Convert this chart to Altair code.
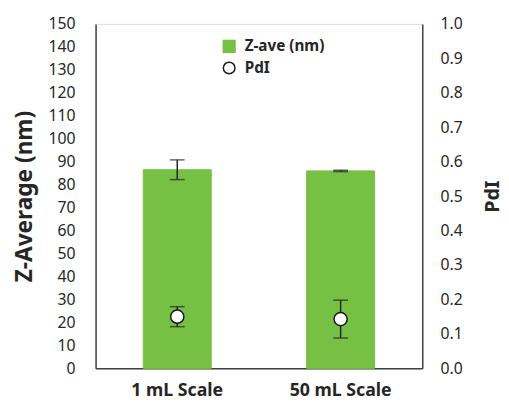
import altair as alt
import pandas as pd

categories = ["1 mL Scale", "50 mL Scale"]
z_ave = [86.5, 86.0]
z_err = [4.3, 0.3]
pdi = [0.150, 0.143]
pdi_err = [0.029, 0.055]
series_names = ["Z-ave (nm)", "PdI"]
series_fill = ["#76c043", "#ffffff"]
series_stroke = ["#76c043", "#1a1a1a"]
series_shape = ["square", "circle"]
z_ticks = list(range(0, 151, 10))
pdi_ticks = [i / 10 for i in range(11)]

df_z = pd.DataFrame({
    "cat": categories,
    "val": z_ave,
    "lo": [v - e for v, e in zip(z_ave, z_err)],
    "hi": [v + e for v, e in zip(z_ave, z_err)],
    "series": series_names[0],
})
df_p = pd.DataFrame({
    "cat": categories,
    "val": pdi,
    "lo": [v - e for v, e in zip(pdi, pdi_err)],
    "hi": [v + e for v, e in zip(pdi, pdi_err)],
    "series": series_names[1],
})

FONT = "Noto Sans"
TXT = "#262626"

xenc = alt.X(
    "cat:N", sort=categories,
    scale=alt.Scale(paddingInner=0.584, paddingOuter=0.292),
    axis=alt.Axis(title=None, labelAngle=0, labelFont=FONT, labelFontSize=18,
                  labelFontWeight="bold", labelColor=TXT, labelPadding=14,
                  ticks=False, domainColor="#404040", domainWidth=1.5),
)

fill_scale = alt.Scale(domain=series_names, range=series_fill)
stroke_scale = alt.Scale(domain=series_names, range=series_stroke)
shape_scale = alt.Scale(domain=series_names, range=series_shape)
legend = alt.Legend(title=None, orient="none", legendX=128, legendY=15,
                    labelFont=FONT, labelFontSize=15.5, labelFontWeight="bold",
                    labelColor=TXT, symbolSize=140, symbolStrokeWidth=1.5,
                    rowPadding=3, labelOffset=8)

left_axis = alt.Axis(title="Z-Average (nm)", values=z_ticks,
                     orient="left", ticks=False, grid=False, labelOverlap=False,
                     labelFont=FONT, labelFontSize=16, labelColor=TXT,
                     labelPadding=21, titleFont=FONT, titleFontSize=23,
                     titleFontWeight="bold", titleColor=TXT, titlePadding=12,
                     domainColor="#404040", domainWidth=1.5)
right_axis = alt.Axis(title="PdI", values=pdi_ticks, format=".1f",
                      orient="right", ticks=False, grid=False, labelOverlap=False,
                      labelFont=FONT, labelFontSize=16, labelColor=TXT,
                      labelPadding=18, titleFont=FONT, titleFontSize=20,
                      titleFontWeight="bold", titleColor=TXT, titlePadding=41,
                      titleAngle=270,
                      domainColor="#404040", domainWidth=1.5)
zscale = alt.Scale(domain=[0, 150])
pscale = alt.Scale(domain=[0, 1])


def zy(field):
    return alt.Y(field, type="quantitative", scale=zscale, axis=left_axis)


def py(field):
    return alt.Y(field, type="quantitative", scale=pscale, axis=right_axis)


bars = alt.Chart(df_z).mark_bar().encode(
    x=xenc, y=zy("val"),
    fill=alt.Fill("series:N", scale=fill_scale, legend=legend),
    stroke=alt.Stroke("series:N", scale=stroke_scale, legend=legend),
)
z_rule = alt.Chart(df_z).mark_rule(color=TXT, strokeWidth=1.5).encode(
    x=xenc, y=zy("lo"), y2="hi:Q")
z_lo = alt.Chart(df_z).mark_tick(color=TXT, size=15, thickness=1.5).encode(x=xenc, y=zy("lo"))
z_hi = alt.Chart(df_z).mark_tick(color=TXT, size=15, thickness=1.5).encode(x=xenc, y=zy("hi"))
left = alt.layer(bars, z_rule, z_lo, z_hi)

p_rule = alt.Chart(df_p).mark_rule(color=TXT, strokeWidth=1.5).encode(
    x=xenc, y=py("lo"), y2="hi:Q")
p_lo = alt.Chart(df_p).mark_tick(color=TXT, size=15, thickness=1.5).encode(x=xenc, y=py("lo"))
p_hi = alt.Chart(df_p).mark_tick(color=TXT, size=15, thickness=1.5).encode(x=xenc, y=py("hi"))
p_pts = alt.Chart(df_p).mark_point(filled=True, size=180, strokeWidth=1.5, opacity=1).encode(
    x=xenc, y=py("val"),
    fill=alt.Fill("series:N", scale=fill_scale, legend=legend),
    stroke=alt.Stroke("series:N", scale=stroke_scale, legend=legend),
    shape=alt.Shape("series:N", scale=shape_scale, legend=legend),
)
right = alt.layer(p_rule, p_lo, p_hi, p_pts)

chart = alt.layer(left, right).resolve_scale(y="independent").properties(
    width=332, height=350,
    autosize=alt.AutoSizeParams(type="none"),
    padding={"left": 89, "top": 13, "right": 80, "bottom": 31},
).configure_view(stroke="#404040", strokeWidth=1.5).configure(background="white")

chart.save("out.html", embed_options={"renderer": "svg", "actions": False})
